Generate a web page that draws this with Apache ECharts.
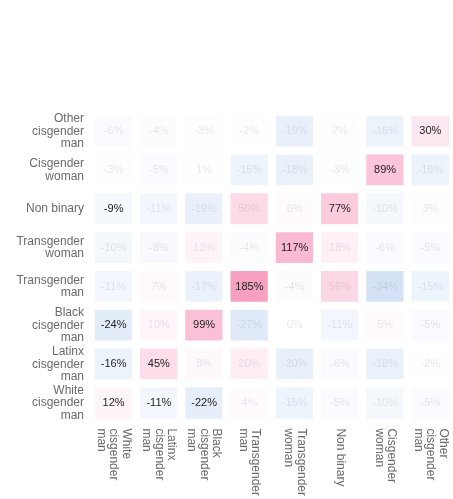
<!DOCTYPE html>
<html>
<head>
<meta charset="utf-8">
<script src="https://cdn.jsdelivr.net/npm/echarts@6/dist/echarts.min.js"></script>
<style>
  html, body { margin: 0; padding: 0; background: #fff; }
  #chart { width: 453px; height: 499px; }
</style>
</head>
<body>
<div id="chart"></div>
<script>
  // columns, left to right
  var colNames = [
    'White\ncisgender\nman', 'Latinx\ncisgender\nman', 'Black\ncisgender\nman',
    'Transgender\nman', 'Transgender\nwoman', 'Non binary',
    'Cisgender\nwoman', 'Other\ncisgender\nman'
  ]
  // rows, top to bottom
  var rowNames = [
    'Other\ncisgender\nman', 'Cisgender\nwoman', 'Non binary',
    'Transgender\nwoman', 'Transgender\nman', 'Black\ncisgender\nman',
    'Latinx\ncisgender\nman', 'White\ncisgender\nman'
  ]
  // percent difference, one row per rowNames entry
  var pctValues = [
    [-6, -4, -3, -2, -19, 2, -16, 30],
    [-3, -5, 1, -15, -18, -3, 89, -16],
    [-9, -11, -19, 50, 6, 77, -10, 3],
    [-10, -8, 13, -4, 117, 18, -6, -5],
    [-11, 7, -17, 185, -4, 56, -34, -15],
    [-24, 10, 99, -27, 0, -11, 5, -5],
    [-16, 45, 8, 20, -20, -6, -18, -2],
    [12, -11, -22, 4, -15, -5, -10, -5]
  ]
  // 1 = significant (dark label), 0 = faded label
  var significant = [
    [0, 0, 0, 0, 0, 0, 0, 1],
    [0, 0, 0, 0, 0, 0, 1, 0],
    [1, 0, 0, 0, 0, 1, 0, 0],
    [0, 0, 0, 0, 1, 0, 0, 0],
    [0, 0, 0, 1, 0, 0, 0, 0],
    [1, 0, 1, 0, 0, 0, 0, 0],
    [1, 1, 0, 0, 0, 0, 0, 0],
    [1, 1, 1, 0, 0, 0, 0, 0]
  ]

  var cells = []
  for (var r = 0; r < rowNames.length; r++) {
    for (var c = 0; c < colNames.length; c++) {
      var v = pctValues[r][c]
      cells.push({
        // 4th dim: log ratio, used only for the colour scale
        value: [c, r, v, Math.log(1 + v / 100)],
        label: { color: significant[r][c] ? '#222' : 'rgba(60,60,80,0.12)' }
      })
    }
  }

  var myChart = echarts.init(document.getElementById('chart'))
  var option = {
    backgroundColor: '#fff',
    animation: false,
    grid: { left: 91, top: 112, width: 365, height: 313 },
    xAxis: {
      type: 'category',
      data: colNames,
      axisLine: { show: false },
      axisTick: { show: false },
      splitLine: { show: false },
      axisLabel: {
        rotate: -90,
        margin: 6,
        color: '#6a6a6a',
        fontSize: 12,
        lineHeight: 12.5,
        fontFamily: 'Liberation Sans, Arial, sans-serif',
        interval: 0
      }
    },
    yAxis: {
      type: 'category',
      data: rowNames,
      inverse: true,
      axisLine: { show: false },
      axisTick: { show: false },
      splitLine: { show: false },
      axisLabel: {
        margin: 7,
        color: '#6a6a6a',
        fontSize: 12,
        lineHeight: 12.5,
        align: 'right',
        fontFamily: 'Liberation Sans, Arial, sans-serif',
        interval: 0
      }
    },
    visualMap: {
      show: false,
      dimension: 3,
      min: -1.1,
      max: 1.1,
      inRange: { color: ['#8fb3e8', '#ffffff', '#f79bbf'] }
    },
    series: [{
      type: 'heatmap',
      data: cells,
      itemStyle: { borderColor: '#fff', borderWidth: 8 },
      label: {
        show: true,
        fontSize: 11,
        fontFamily: 'Liberation Sans, Arial, sans-serif',
        formatter: function (p) { return p.value[2] + '%' }
      },
      emphasis: { disabled: true }
    }]
  }
  myChart.setOption(option)
</script>
</body>
</html>
